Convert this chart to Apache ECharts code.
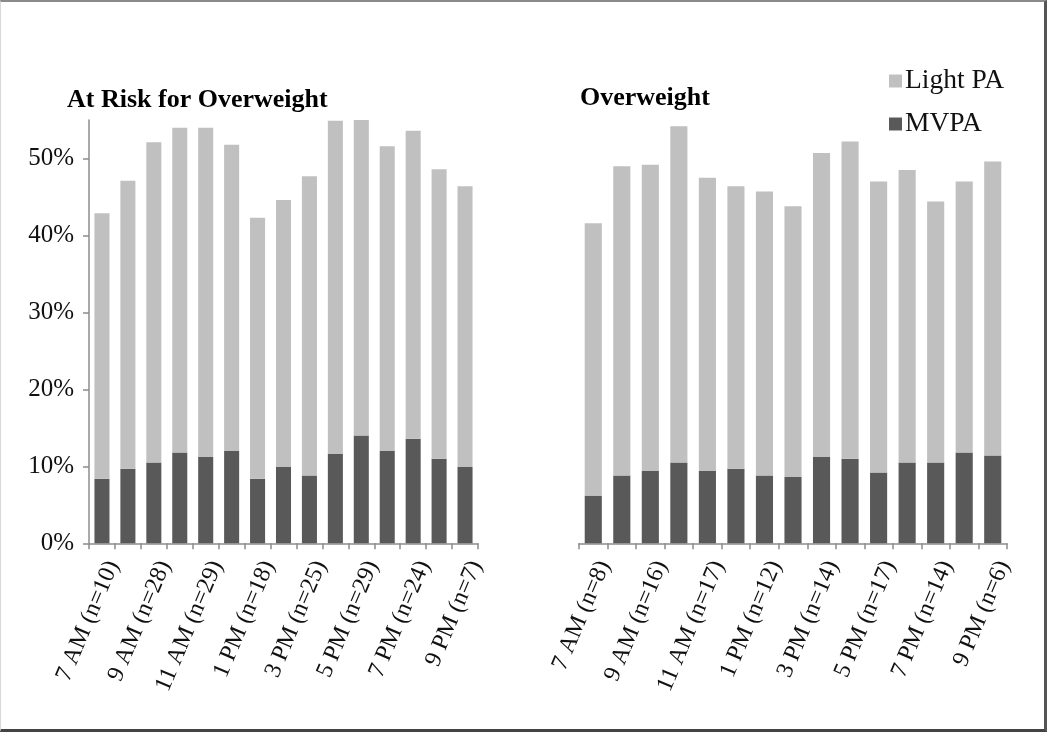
<!DOCTYPE html>
<html>
<head>
<meta charset="utf-8">
<script src="https://cdn.jsdelivr.net/npm/echarts@6/dist/echarts.min.js"></script>
<style>
html,body{margin:0;padding:0;background:#fff;}
#chart{position:absolute;left:0;top:0;width:1050px;height:732px;}
#frame{position:absolute;left:0;top:0;width:1043px;height:727px;border-top:2px solid #8a8a8a;border-left:1px solid #d8d8d8;border-right:3px solid #555;border-bottom:3px solid #444;pointer-events:none;}
</style>
</head>
<body>
<div id="chart"></div>
<div id="frame"></div>
<script>
// Categories (hours of day)
const leftCategories = ["7 AM (n=10)","8 AM","9 AM (n=28)","10 AM","11 AM (n=29)","12 PM","1 PM (n=18)","2 PM","3 PM (n=25)","4 PM","5 PM (n=29)","6 PM","7 PM (n=24)","8 PM","9 PM (n=7)"];
const rightCategories = ["7 AM (n=8)","8 AM","9 AM (n=16)","10 AM","11 AM (n=17)","12 PM","1 PM (n=12)","2 PM","3 PM (n=14)","4 PM","5 PM (n=17)","6 PM","7 PM (n=14)","8 PM","9 PM (n=6)"];

// At Risk for Overweight (percent)
const leftMVPA    = [8.4, 9.7, 10.5, 11.8, 11.2, 12.0, 8.4, 9.9, 8.8, 11.6, 14.0, 12.0, 13.6, 11.0, 9.9];
const leftLightPA = [34.5, 37.4, 41.6, 42.2, 42.8, 39.8, 33.9, 34.7, 38.9, 43.3, 41.1, 39.6, 40.0, 37.6, 36.5];

// Overweight (percent)
const rightMVPA    = [6.2, 8.8, 9.4, 10.5, 9.4, 9.7, 8.8, 8.6, 11.2, 11.0, 9.2, 10.5, 10.5, 11.8, 11.4];
const rightLightPA = [35.4, 40.2, 39.8, 43.7, 38.1, 36.7, 36.9, 35.2, 39.5, 41.2, 37.8, 38.0, 33.9, 35.2, 38.2];

// Y tick labels
const yTicks = [0, 10, 20, 30, 40, 50];

const FONT = "'Liberation Serif','Times New Roman',serif";
const DARK = '#595959';
const LIGHT = '#c0c0c0';
const AXIS = '#8c8c8c';

const chart = echarts.init(document.getElementById('chart'), null, {renderer: 'canvas'});

function xAxisFor(cats, gridIndex) {
  return {
    type: 'category', gridIndex: gridIndex, data: cats,
    axisLine: {show: true, lineStyle: {color: AXIS, width: 1.5}},
    axisTick: {show: true, interval: 0, length: 6, lineStyle: {color: AXIS, width: 1.5}},
    axisLabel: {
      interval: 1, rotate: 67, margin: 14, verticalAlign: 'top',
      fontFamily: FONT, fontSize: 24, color: '#111',
      formatter: v => v
    }
  };
}

function yAxisFor(gridIndex, visible) {
  return {
    type: 'value', gridIndex: gridIndex, min: 0, max: 55, interval: 10,
    splitLine: {show: false},
    axisLine: {show: visible, lineStyle: {color: AXIS, width: 1.5}},
    axisTick: {show: visible, length: 6, customValues: yTicks, lineStyle: {color: AXIS, width: 1.5}},
    axisLabel: {
      show: visible, customValues: yTicks, margin: 15,
      fontFamily: FONT, fontSize: 25, color: '#111',
      formatter: v => v + '%'
    }
  };
}

const option = {
  animation: false,
  backgroundColor: '#fff',
  title: [
    {text: 'At Risk for Overweight', left: 67, top: 87, padding: 0,
     textStyle: {fontFamily: FONT, fontSize: 26, fontWeight: 'bold', color: '#000'}},
    {text: 'Overweight', left: 580, top: 85, padding: 0,
     textStyle: {fontFamily: FONT, fontSize: 26, fontWeight: 'bold', color: '#000'}}
  ],
  legend: {
    orient: 'vertical', left: 884, top: 62,
    itemWidth: 13, itemHeight: 13, itemGap: 15,
    icon: 'rect',
    data: ['Light PA', 'MVPA'],
    textStyle: {fontFamily: FONT, fontSize: 27.5, color: '#111', lineHeight: 28, padding: [0,0,0,-2]}
  },
  grid: [
    {left: 89, top: 120, width: 389, height: 423.3, containLabel: false},
    {left: 579, top: 120, width: 428, height: 423.3, containLabel: false}
  ],
  xAxis: [xAxisFor(leftCategories, 0), xAxisFor(rightCategories, 1)],
  yAxis: [yAxisFor(0, true), yAxisFor(1, false)],
  series: [
    {name: 'MVPA', type: 'bar', stack: 'a', xAxisIndex: 0, yAxisIndex: 0, data: leftMVPA,
     barCategoryGap: '42%', itemStyle: {color: DARK}},
    {name: 'Light PA', type: 'bar', stack: 'a', xAxisIndex: 0, yAxisIndex: 0, data: leftLightPA,
     barCategoryGap: '42%', itemStyle: {color: LIGHT}},
    {name: 'MVPA', type: 'bar', stack: 'b', xAxisIndex: 1, yAxisIndex: 1, data: rightMVPA,
     barCategoryGap: '40%', itemStyle: {color: DARK}},
    {name: 'Light PA', type: 'bar', stack: 'b', xAxisIndex: 1, yAxisIndex: 1, data: rightLightPA,
     barCategoryGap: '40%', itemStyle: {color: LIGHT}}
  ]
};
chart.setOption(option);
</script>
</body>
</html>
